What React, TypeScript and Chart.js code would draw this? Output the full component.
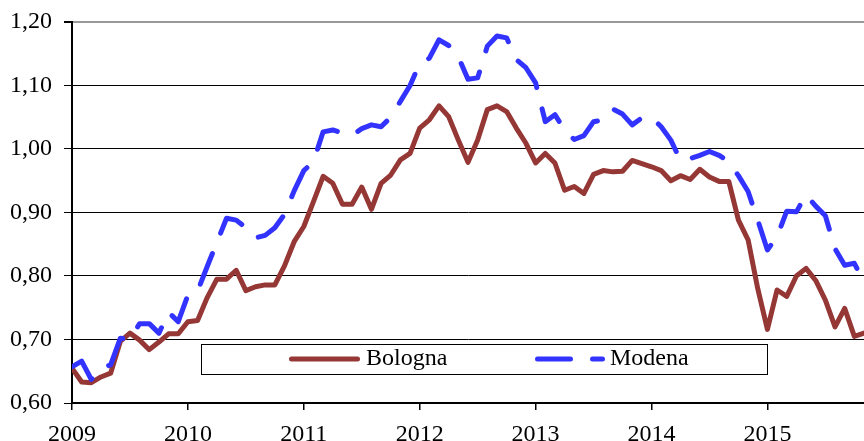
import React, { useEffect, useRef } from 'react';
import { Chart, registerables } from 'chart.js';

Chart.register(...registerables);

// ---- data ----
const startYear = 2009;
const yearLabels = ['2009', '2010', '2011', '2012', '2013', '2014', '2015'];
const yTickValues = [0.6, 0.7, 0.8, 0.9, 1.0, 1.1, 1.2];
const seriesNames = ['Bologna', 'Modena'];

// monthly values, Jan 2009 onward
const bologna = [
  0.655, 0.633, 0.632, 0.641, 0.647, 0.697, 0.710, 0.699, 0.684, 0.696, 0.709, 0.709,
  0.728, 0.730, 0.766, 0.795, 0.795, 0.809, 0.777, 0.783, 0.786, 0.786, 0.816, 0.854,
  0.878, 0.917, 0.957, 0.946, 0.913, 0.913, 0.940, 0.905, 0.946, 0.959, 0.983, 0.993,
  1.033, 1.046, 1.068, 1.051, 1.014, 0.979, 1.014, 1.062, 1.068, 1.059, 1.033, 1.009,
  0.978, 0.993, 0.978, 0.935, 0.941, 0.930, 0.960, 0.966, 0.964, 0.965, 0.982, 0.977,
  0.972, 0.966, 0.950, 0.958, 0.952, 0.968, 0.956, 0.949, 0.949, 0.888, 0.857, 0.780,
  0.716, 0.778, 0.768, 0.800, 0.812, 0.793, 0.762, 0.720, 0.749, 0.705, 0.710,
];

const modena = [
  0.657, 0.666, 0.637, 0.655, 0.660, 0.702, 0.700, 0.725, 0.725, 0.710, 0.743, 0.728,
  0.770, 0.776, 0.815, 0.853, 0.891, 0.888, 0.876, 0.860, 0.864, 0.876, 0.897, 0.934,
  0.966, 0.980, 1.027, 1.030, 1.025, 1.022, 1.032, 1.038, 1.035, 1.050, 1.075, 1.100,
  1.135, 1.143, 1.172, 1.163, 1.145, 1.110, 1.112, 1.162, 1.178, 1.175, 1.141, 1.128,
  1.104, 1.043, 1.054, 1.030, 1.015, 1.021, 1.043, 1.046, 1.063, 1.055, 1.038, 1.049,
  1.050, 1.035, 1.014, 0.982, 0.985, 0.990, 0.996, 0.990, 0.980, 0.958, 0.933, 0.888,
  0.841, 0.862, 0.902, 0.901, 0.928, 0.910, 0.895, 0.843, 0.817, 0.820, 0.790,
];

// ---- styling ----
const FONT = "'Liberation Serif', 'Times New Roman', serif";
const BROWN = '#953735';
const BLUE = '#3333ff';
const DASH = [33, 22];

const legendPlugin = {
  id: 'boxLegend',
  afterDraw(chart: any) {
    const ctx = chart.ctx as CanvasRenderingContext2D;
    const box = { l: 201.5, t: 344.5, r: 767.5, b: 374.5 };
    const cy = 359;
    const samples = [
      { x0: 291.5, x1: 357.5, tx: 366 },
      { x0: 537.5, x1: 602.5, tx: 610 },
    ];
    ctx.save();
    ctx.fillStyle = '#ffffff';
    ctx.fillRect(box.l, box.t, box.r - box.l, box.b - box.t);
    ctx.strokeStyle = '#000000';
    ctx.lineWidth = 1;
    ctx.strokeRect(box.l, box.t, box.r - box.l, box.b - box.t);
    chart.data.datasets.forEach((ds: any, i: number) => {
      const s = samples[i];
      ctx.beginPath();
      ctx.strokeStyle = ds.borderColor;
      ctx.lineWidth = ds.borderWidth;
      ctx.lineCap = 'round';
      ctx.setLineDash(ds.borderDash || []);
      ctx.moveTo(s.x0, cy);
      ctx.lineTo(s.x1, cy);
      ctx.stroke();
      ctx.setLineDash([]);
      ctx.fillStyle = '#000000';
      ctx.font = `24px ${FONT}`;
      ctx.textBaseline = 'middle';
      ctx.textAlign = 'left';
      ctx.fillText(ds.label, s.tx, cy);
    });
    ctx.restore();
  },
};

export default function App() {
  const ref = useRef<HTMLCanvasElement | null>(null);

  useEffect(() => {
    if (!ref.current) return;
    const toPts = (arr: number[]) => arr.map((v, i) => ({ x: i, y: v }));
    const chart = new Chart(ref.current, {
      type: 'line',
      data: {
        datasets: [
          {
            label: seriesNames[0],
            data: toPts(bologna),
            borderColor: BROWN,
            backgroundColor: BROWN,
            borderWidth: 5,
            pointRadius: 0,
            tension: 0,
            borderJoinStyle: 'round',
            borderCapStyle: 'round',
            order: 1,
          },
          {
            label: seriesNames[1],
            data: toPts(modena),
            borderColor: BLUE,
            backgroundColor: BLUE,
            borderWidth: 5,
            borderDash: DASH,
            pointRadius: 0,
            tension: 0,
            borderJoinStyle: 'round',
            borderCapStyle: 'round',
            order: 0,
          },
        ],
      },
      options: {
        responsive: false,
        animation: false,
        devicePixelRatio: 1,
        layout: { padding: { top: 22, right: 0, left: 0, bottom: 0 } },
        plugins: {
          legend: { display: false },
          tooltip: { enabled: false },
        },
        scales: {
          x: {
            type: 'linear',
            min: 0,
            max: 82,
            afterBuildTicks: (axis: any) => {
              axis.ticks = yearLabels.map((_, i) => ({ value: i * 12 }));
            },
            afterFit: (scale: any) => {
              scale.height = 38;
              scale.paddingLeft = 0;
              scale.paddingRight = 0;
            },
            ticks: {
              autoSkip: false,
              maxRotation: 0,
              padding: 10,
              color: '#000000',
              font: { family: FONT, size: 24 },
              callback: (v: any) => String(startYear + Math.round(Number(v) / 12)),
            },
            grid: {
              drawOnChartArea: false,
              drawTicks: true,
              tickLength: 7,
              color: '#000000',
              lineWidth: 1.5,
            },
            border: { display: true, color: '#000000', width: 2 },
          },
          y: {
            type: 'linear',
            min: 0.6,
            max: 1.2,
            afterBuildTicks: (axis: any) => {
              axis.ticks = yTickValues.map((v) => ({ value: v }));
            },
            afterFit: (scale: any) => {
              scale.width = 72;
              scale.paddingTop = 0;
              scale.paddingBottom = 0;
            },
            ticks: {
              padding: 12,
              color: '#000000',
              font: { family: FONT, size: 24 },
              callback: (v: any) => Number(v).toFixed(2).replace('.', ','),
            },
            grid: {
              drawTicks: true,
              tickLength: 8,
              color: (c: any) => (c.tick && Math.abs(c.tick.value - 1.2) < 1e-6 ? '#999999' : '#000000'),
              lineWidth: (c: any) => (c.tick && Math.abs(c.tick.value - 1.2) < 1e-6 ? 2 : 1),
              tickColor: '#000000',
            },
            border: { display: true, color: '#000000', width: 2 },
          },
        },
      },
      plugins: [legendPlugin],
    });
    return () => chart.destroy();
  }, []);

  return (
    <div style={{ position: 'fixed', left: 0, top: 0, width: 864, height: 441, background: '#ffffff' }}>
      <canvas ref={ref} width={864} height={441} style={{ display: 'block' }} />
    </div>
  );
}
